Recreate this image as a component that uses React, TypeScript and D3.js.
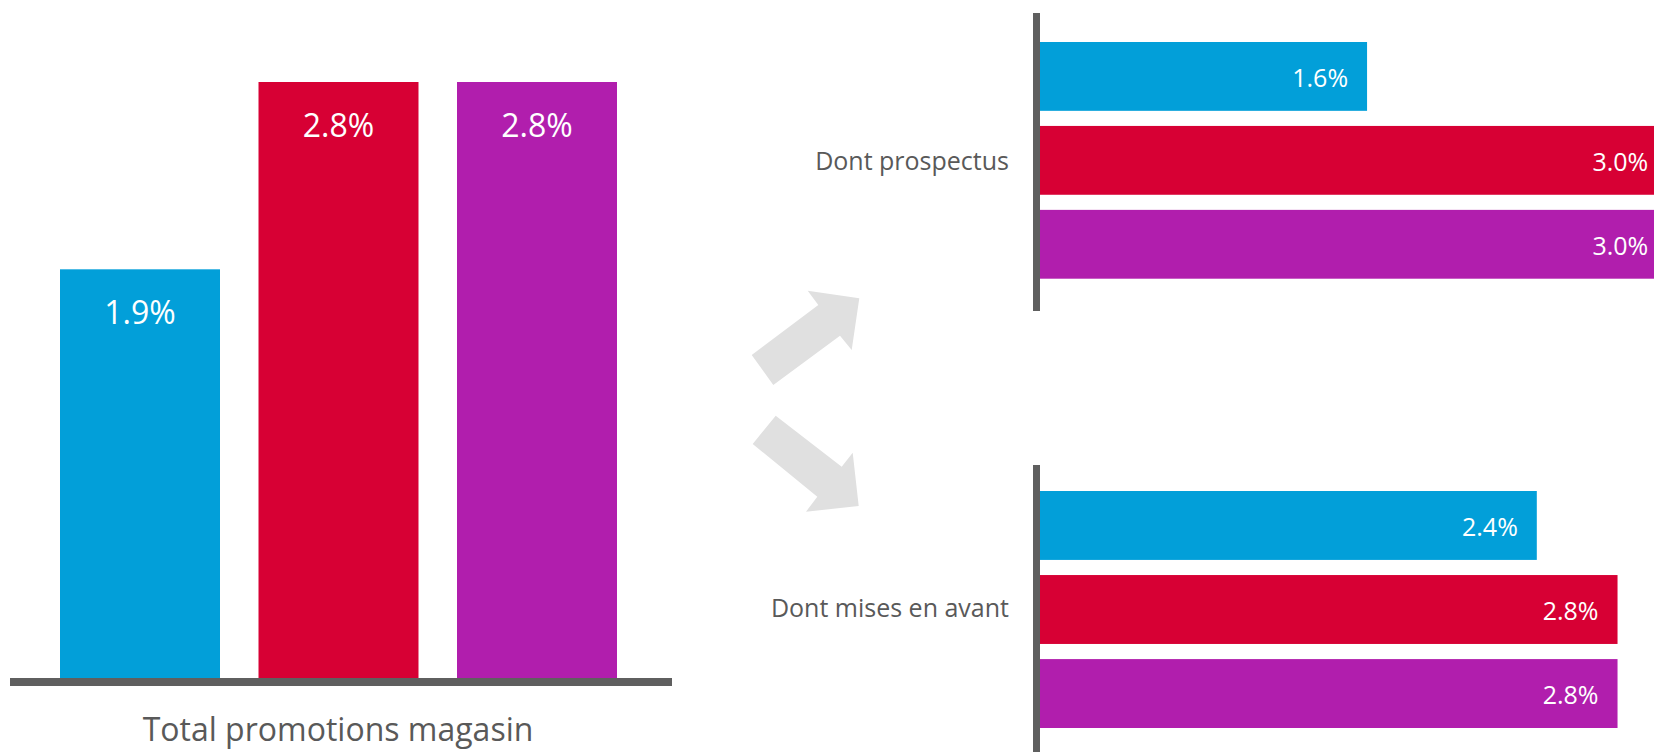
import React, { useEffect } from 'react';
import * as d3 from 'd3';

// ---- data ----
const seriesKeys = ['s1', 's2', 's3'];
const seriesColors = ['#029FD9', '#D70034', '#B11EAD'];
const totalCategory = 'Total promotions magasin';
const totalValues = [1.92, 2.8, 2.8];
const detailCategories = ['Dont prospectus', 'Dont mises en avant'];
const prospectusValues = [1.58, 3.03, 3.03];
const misesEnAvantValues = [2.4, 2.79, 2.79];

const fmt = (v: number) => d3.format('.1f')(v) + '%';
const FONT = "'Open Sans', 'Noto Sans', sans-serif";
const AXIS = '#5F5F5F';
const TEXT = '#595959';
const ARROW = '#E0E0E0';

const W = 1654;
const H = 752;

// decorative arrows (shape outlines)
const arrowUp: [number, number][] = [
  [751.7, 355], [818.3, 305], [807.7, 290.7], [859.3, 298.3],
  [851.7, 350], [840, 335.7], [773.3, 385],
];
const arrowDown: [number, number][] = [
  [752.7, 444], [775.7, 415.7], [841.7, 466.7], [852.7, 452.7],
  [858.7, 506], [806, 511.7], [817.3, 496.7],
];

export default function App() {
  useEffect(() => {
    document.body.style.margin = '0';
    document.body.style.overflow = 'hidden';
  }, []);

  // left vertical chart
  const xL = d3.scaleBand<string>().domain(seriesKeys).range([60, 617]).paddingInner(0.194).paddingOuter(0);
  const yL = d3.scaleLinear().domain([0, 2.8]).range([678, 82]);

  // right horizontal charts
  const xR = d3.scaleLinear().domain([0, 3]).range([1040, 1661]);
  const panels = [
    { name: detailCategories[0], values: prospectusValues, range: [42, 278.7], axis: [13, 311], labelY: 170 },
    { name: detailCategories[1], values: misesEnAvantValues, range: [491, 728], axis: [465, 770], labelY: 617 },
  ];

  const line = d3.line();

  return (
    <svg width={W} height={H} style={{ position: 'absolute', left: 0, top: 0, background: '#fff' }} fontFamily={FONT}>
      <rect x={0} y={0} width={W} height={H} fill="#fff" />
      {/* left chart */}
      {totalValues.map((v, i) => {
        const k = seriesKeys[i];
        const x = xL(k)!;
        const bw = xL.bandwidth();
        return (
          <g key={k}>
            <rect x={x} y={yL(v)} width={bw} height={yL(0) - yL(v)} fill={seriesColors[i]} />
            <text x={x + bw / 2} y={yL(v) + 54.5} fill="#fff" fontSize={32} textAnchor="middle">{fmt(v)}</text>
          </g>
        );
      })}
      <rect x={10} y={yL(0)} width={662} height={8} fill={AXIS} />
      <text x={338} y={741} fill={TEXT} fontSize={32} textAnchor="middle">{totalCategory}</text>

      {/* arrows */}
      <path d={line(arrowUp)! + 'Z'} fill={ARROW} />
      <path d={line(arrowDown)! + 'Z'} fill={ARROW} />

      {/* right charts */}
      {panels.map((p) => {
        const yB = d3.scaleBand<string>().domain(seriesKeys).range(p.range as [number, number]).paddingInner(0.18).paddingOuter(0);
        return (
          <g key={p.name}>
            {p.values.map((v, i) => {
              const k = seriesKeys[i];
              const y = yB(k)!;
              const bh = yB.bandwidth();
              return (
                <g key={k}>
                  <rect x={xR(0)} y={y} width={xR(v) - xR(0)} height={bh} fill={seriesColors[i]} />
                  <text x={xR(v) - 19} y={y + bh / 2 + 10.5} fill="#fff" fontSize={25} textAnchor="end">{fmt(v)}</text>
                </g>
              );
            })}
            <rect x={1033} y={p.axis[0]} width={7} height={p.axis[1] - p.axis[0]} fill={AXIS} />
            <text x={1009} y={p.labelY} fill={TEXT} fontSize={25} textAnchor="end">{p.name}</text>
          </g>
        );
      })}
    </svg>
  );
}
